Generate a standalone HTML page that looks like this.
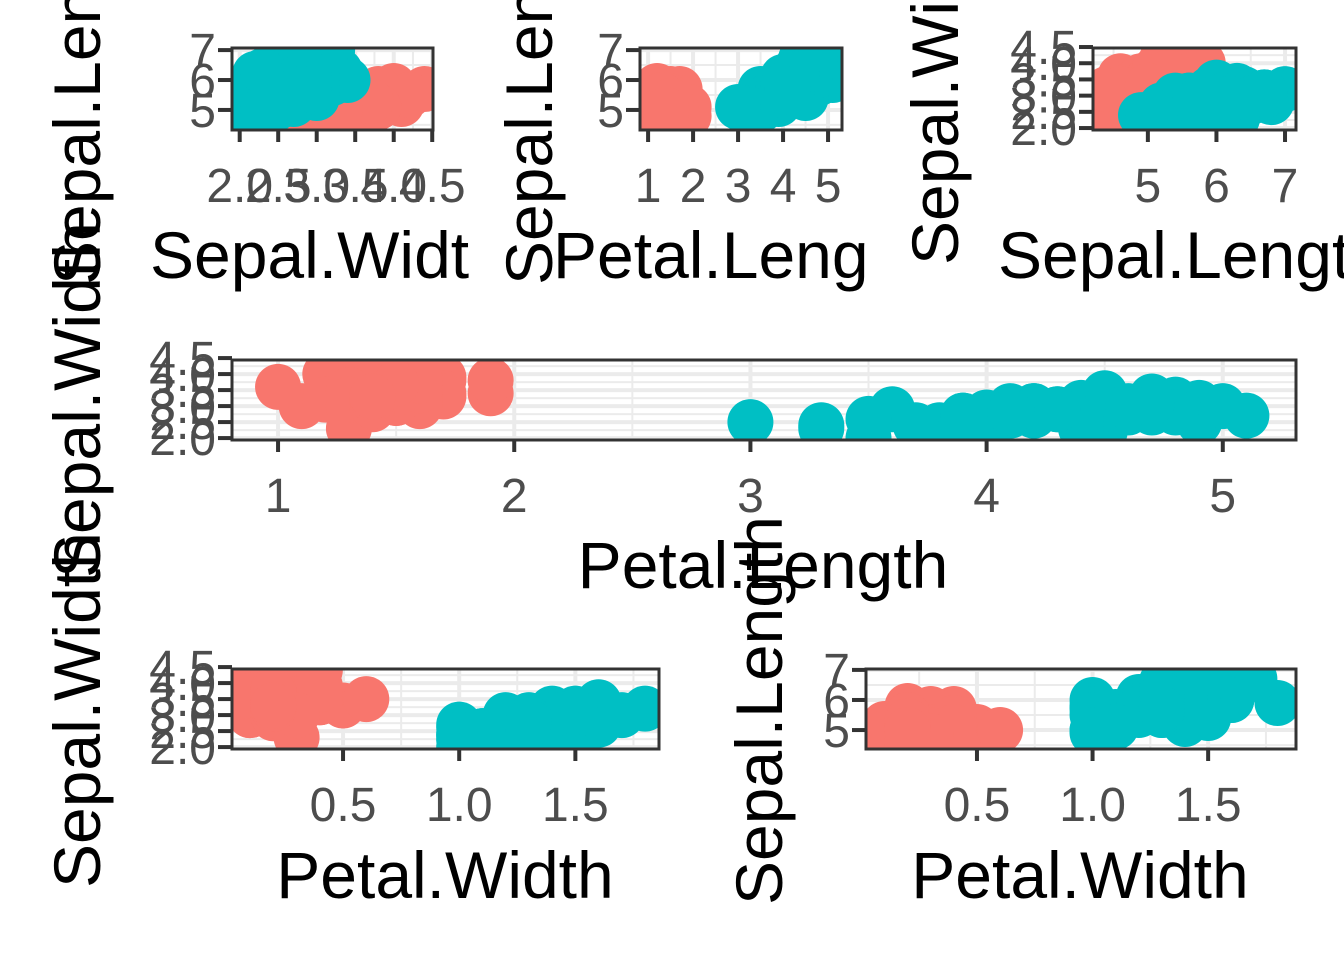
<!DOCTYPE html>
<html><head><meta charset="utf-8"><style>
html,body{margin:0;padding:0;background:#fff;}
svg text{font-family:"Liberation Sans",Arial,sans-serif;}
</style></head><body>
<svg id="c" width="1344" height="960" xmlns="http://www.w3.org/2000/svg"></svg>
<script>
// iris setosa / versicolor: Sepal.Length, Sepal.Width, Petal.Length, Petal.Width
const setosaSL=[5.1,4.9,4.7,4.6,5.0,5.4,4.6,5.0,4.4,4.9,5.4,4.8,4.8,4.3,5.8,5.7,5.4,5.1,5.7,5.1,5.4,5.1,4.6,5.1,4.8,5.0,5.0,5.2,5.2,4.7,4.8,5.4,5.2,5.5,4.9,5.0,5.5,4.9,4.4,5.1,5.0,4.5,4.4,5.0,5.1,4.8,5.1,4.6,5.3,5.0];
const setosaSW=[3.5,3.0,3.2,3.1,3.6,3.9,3.4,3.4,2.9,3.1,3.7,3.4,3.0,3.0,4.0,4.4,3.9,3.5,3.8,3.8,3.4,3.7,3.6,3.3,3.4,3.0,3.4,3.5,3.4,3.2,3.1,3.4,4.1,4.2,3.1,3.2,3.5,3.6,3.0,3.4,3.5,2.3,3.2,3.5,3.8,3.0,3.8,3.2,3.7,3.3];
const setosaPL=[1.4,1.4,1.3,1.5,1.4,1.7,1.4,1.5,1.4,1.5,1.5,1.6,1.4,1.1,1.2,1.5,1.3,1.4,1.7,1.5,1.7,1.5,1.0,1.7,1.9,1.6,1.6,1.5,1.4,1.6,1.6,1.5,1.5,1.4,1.5,1.2,1.3,1.4,1.3,1.5,1.3,1.3,1.3,1.6,1.9,1.4,1.6,1.4,1.5,1.4];
const setosaPW=[0.2,0.2,0.2,0.2,0.2,0.4,0.3,0.2,0.2,0.1,0.2,0.2,0.1,0.1,0.2,0.4,0.4,0.3,0.3,0.3,0.2,0.4,0.2,0.5,0.2,0.2,0.4,0.2,0.2,0.2,0.2,0.4,0.1,0.2,0.2,0.2,0.2,0.1,0.2,0.2,0.3,0.3,0.2,0.6,0.4,0.3,0.2,0.2,0.2,0.2];
const versiSL=[7.0,6.4,6.9,5.5,6.5,5.7,6.3,4.9,6.6,5.2,5.0,5.9,6.0,6.1,5.6,6.7,5.6,5.8,6.2,5.6,5.9,6.1,6.3,6.1,6.4,6.6,6.8,6.7,6.0,5.7,5.5,5.5,5.8,6.0,5.4,6.0,6.7,6.3,5.6,5.5,5.5,6.1,5.8,5.0,5.6,5.7,5.7,6.2,5.1,5.7];
const versiSW=[3.2,3.2,3.1,2.3,2.8,2.8,3.3,2.4,2.9,2.7,2.0,3.0,2.2,2.9,2.9,3.1,3.0,2.7,2.2,2.5,3.2,2.8,2.5,2.8,2.9,3.0,2.8,3.0,2.9,2.6,2.4,2.4,2.7,2.7,3.0,3.4,3.1,2.3,3.0,2.5,2.6,3.0,2.6,2.3,2.7,3.0,2.9,2.9,2.5,2.8];
const versiPL=[4.7,4.5,4.9,4.0,4.6,4.5,4.7,3.3,4.6,3.9,3.5,4.2,4.0,4.7,3.6,4.4,4.5,4.1,4.5,3.9,4.8,4.0,4.9,4.7,4.3,4.4,4.8,5.0,4.5,3.5,3.8,3.7,3.9,5.1,4.5,4.5,4.7,4.4,4.1,4.0,4.4,4.6,4.0,3.3,4.2,4.2,4.2,4.3,3.0,4.1];
const versiPW=[1.4,1.5,1.5,1.3,1.5,1.3,1.6,1.0,1.3,1.4,1.0,1.5,1.0,1.4,1.3,1.4,1.5,1.0,1.5,1.1,1.8,1.3,1.5,1.2,1.3,1.4,1.4,1.7,1.5,1.0,1.1,1.0,1.2,1.6,1.5,1.6,1.5,1.3,1.3,1.3,1.2,1.4,1.2,1.0,1.3,1.2,1.3,1.3,1.1,1.3];
const ticksSL=[5,6,7], ticksSW=[2.0,2.5,3.0,3.5,4.0,4.5], ticksPL=[1,2,3,4,5], ticksPW=[0.5,1.0,1.5];
const labSW=["2.0","2.5","3.0","3.5","4.0","4.5"], labPW=["0.5","1.0","1.5"];

const NS="http://www.w3.org/2000/svg", svg=document.getElementById('c');
function el(t,a,p){const e=document.createElementNS(NS,t);for(const k in a)e.setAttribute(k,a[k]);(p||svg).appendChild(e);return e;}
const cols={s:"#F8766D",v:"#00BFC4"};
const vars={SL:[setosaSL,versiSL,ticksSL,ticksSL.map(String)],SW:[setosaSW,versiSW,ticksSW,labSW],PL:[setosaPL,versiPL,ticksPL,ticksPL.map(String)],PW:[setosaPW,versiPW,ticksPW,labPW]};
const panels=[
 {n:"sw-vs-sl",xv:"SW",yv:"SL",r:[232,48,433,130],xd:[1.9,4.51],yd:[4.33,7.07]},
 {n:"pl-vs-sl",xv:"PL",yv:"SL",r:[640,48,842,130],xd:[0.82,5.31],yd:[4.33,7.07]},
 {n:"sl-vs-sw",xv:"SL",yv:"SW",r:[1093,48,1296,130],xd:[4.2,7.16],yd:[1.94,4.47]},
 {n:"pl-vs-sw",xv:"PL",yv:"SW",r:[232,360,1296,440],xd:[0.805,5.31],yd:[1.94,4.44]},
 {n:"pw-vs-sw",xv:"PW",yv:"SW",r:[232,669,659,749],xd:[0.022,1.86],yd:[1.94,4.44]},
 {n:"pw-vs-sl",xv:"PW",yv:"SL",r:[866,669,1296,749],xd:[0.02,1.88],yd:[4.37,7.03]}
];
panels.forEach((P,i)=>{
 const [x0,y0,x1,y1]=P.r;
 const sx=v=>x0+(v-P.xd[0])/(P.xd[1]-P.xd[0])*(x1-x0);
 const sy=v=>y1-(v-P.yd[0])/(P.yd[1]-P.yd[0])*(y1-y0);
 const g=el('g',{});
 
 
 el('clipPath',{id:'cp'+i},g);
 el('rect',{x:x0,y:y0,width:x1-x0,height:y1-y0},g.lastChild);
 const XV=vars[P.xv], YV=vars[P.yv];
 const minor=t=>{const o=[];for(let k=0;k<t.length-1;k++)o.push((t[k]+t[k+1])/2);o.push(t[0]-(t[1]-t[0])/2,t[t.length-1]+(t[1]-t[0])/2);return o;};
 const gg=el('g',{'clip-path':`url(#cp${i})`},g);
 minor(XV[2]).forEach(v=>el('line',{x1:sx(v),x2:sx(v),y1:y0,y2:y1,stroke:"#EBEBEB","stroke-width":2},gg));
 minor(YV[2]).forEach(v=>el('line',{y1:sy(v),y2:sy(v),x1:x0,x2:x1,stroke:"#EBEBEB","stroke-width":2},gg));
 XV[2].forEach(v=>el('line',{x1:sx(v),x2:sx(v),y1:y0,y2:y1,stroke:"#EBEBEB","stroke-width":4},gg));
 YV[2].forEach(v=>el('line',{y1:sy(v),y2:sy(v),x1:x0,x2:x1,stroke:"#EBEBEB","stroke-width":4},gg));
 [[0,'s'],[1,'v']].forEach(([k,c])=>{
  XV[k].forEach((xv,j)=>{
   const pt=el('circle',{cx:sx(xv),cy:sy(YV[k][j]),r:23,fill:cols[c]},gg);
   
   
  });
 });
 el('rect',{x:x0,y:y0,width:x1-x0,height:y1-y0,fill:"none",stroke:"#333","stroke-width":3},g);
 XV[2].forEach((v,j)=>{
  el('line',{x1:sx(v),x2:sx(v),y1:y1,y2:y1+12,stroke:"#333","stroke-width":4},g);
  const t=el('text',{x:sx(v),y:y1+72,"text-anchor":"middle","font-size":48,fill:"#4D4D4D"},g);
  t.textContent=XV[3][j];
  
  
 });
 YV[2].forEach((v,j)=>{
  el('line',{x1:x0-14,x2:x0,y1:sy(v),y2:sy(v),stroke:"#333","stroke-width":4},g);
  const t=el('text',{x:x0-16,y:sy(v)+17,"text-anchor":"end","font-size":48,fill:"#4D4D4D"},g);
  t.textContent=YV[3][j];
  
  
 });
});
const titles=[
 ["Sepal.Widt",150,278,0],["Petal.Leng",553,278,0],["Sepal.Lengt",998,278,0],
 ["Petal.Length",763,588,0],["Petal.Width",445,898,0],["Petal.Width",1080,898,0],
 ["Sepal.Length",100,285,1],["Sepal.Length",552,285,1],["Sepal.Width",958,265,1],
 ["Sepal.Width",100,578,1],["Sepal.Width",100,888,1],["Sepal.Length",782,905,1]
];
titles.forEach(([s,x,y,rot])=>{
 const t=el('text',{x:x,y:y,"font-size":66,fill:"#000","text-anchor":rot?"start":(x===763||x===445||x===1080?"middle":"start")});
 if(rot)t.setAttribute('transform',`rotate(-90 ${x} ${y})`);
 t.textContent=s;
 
 
});
</script>
</body></html>
